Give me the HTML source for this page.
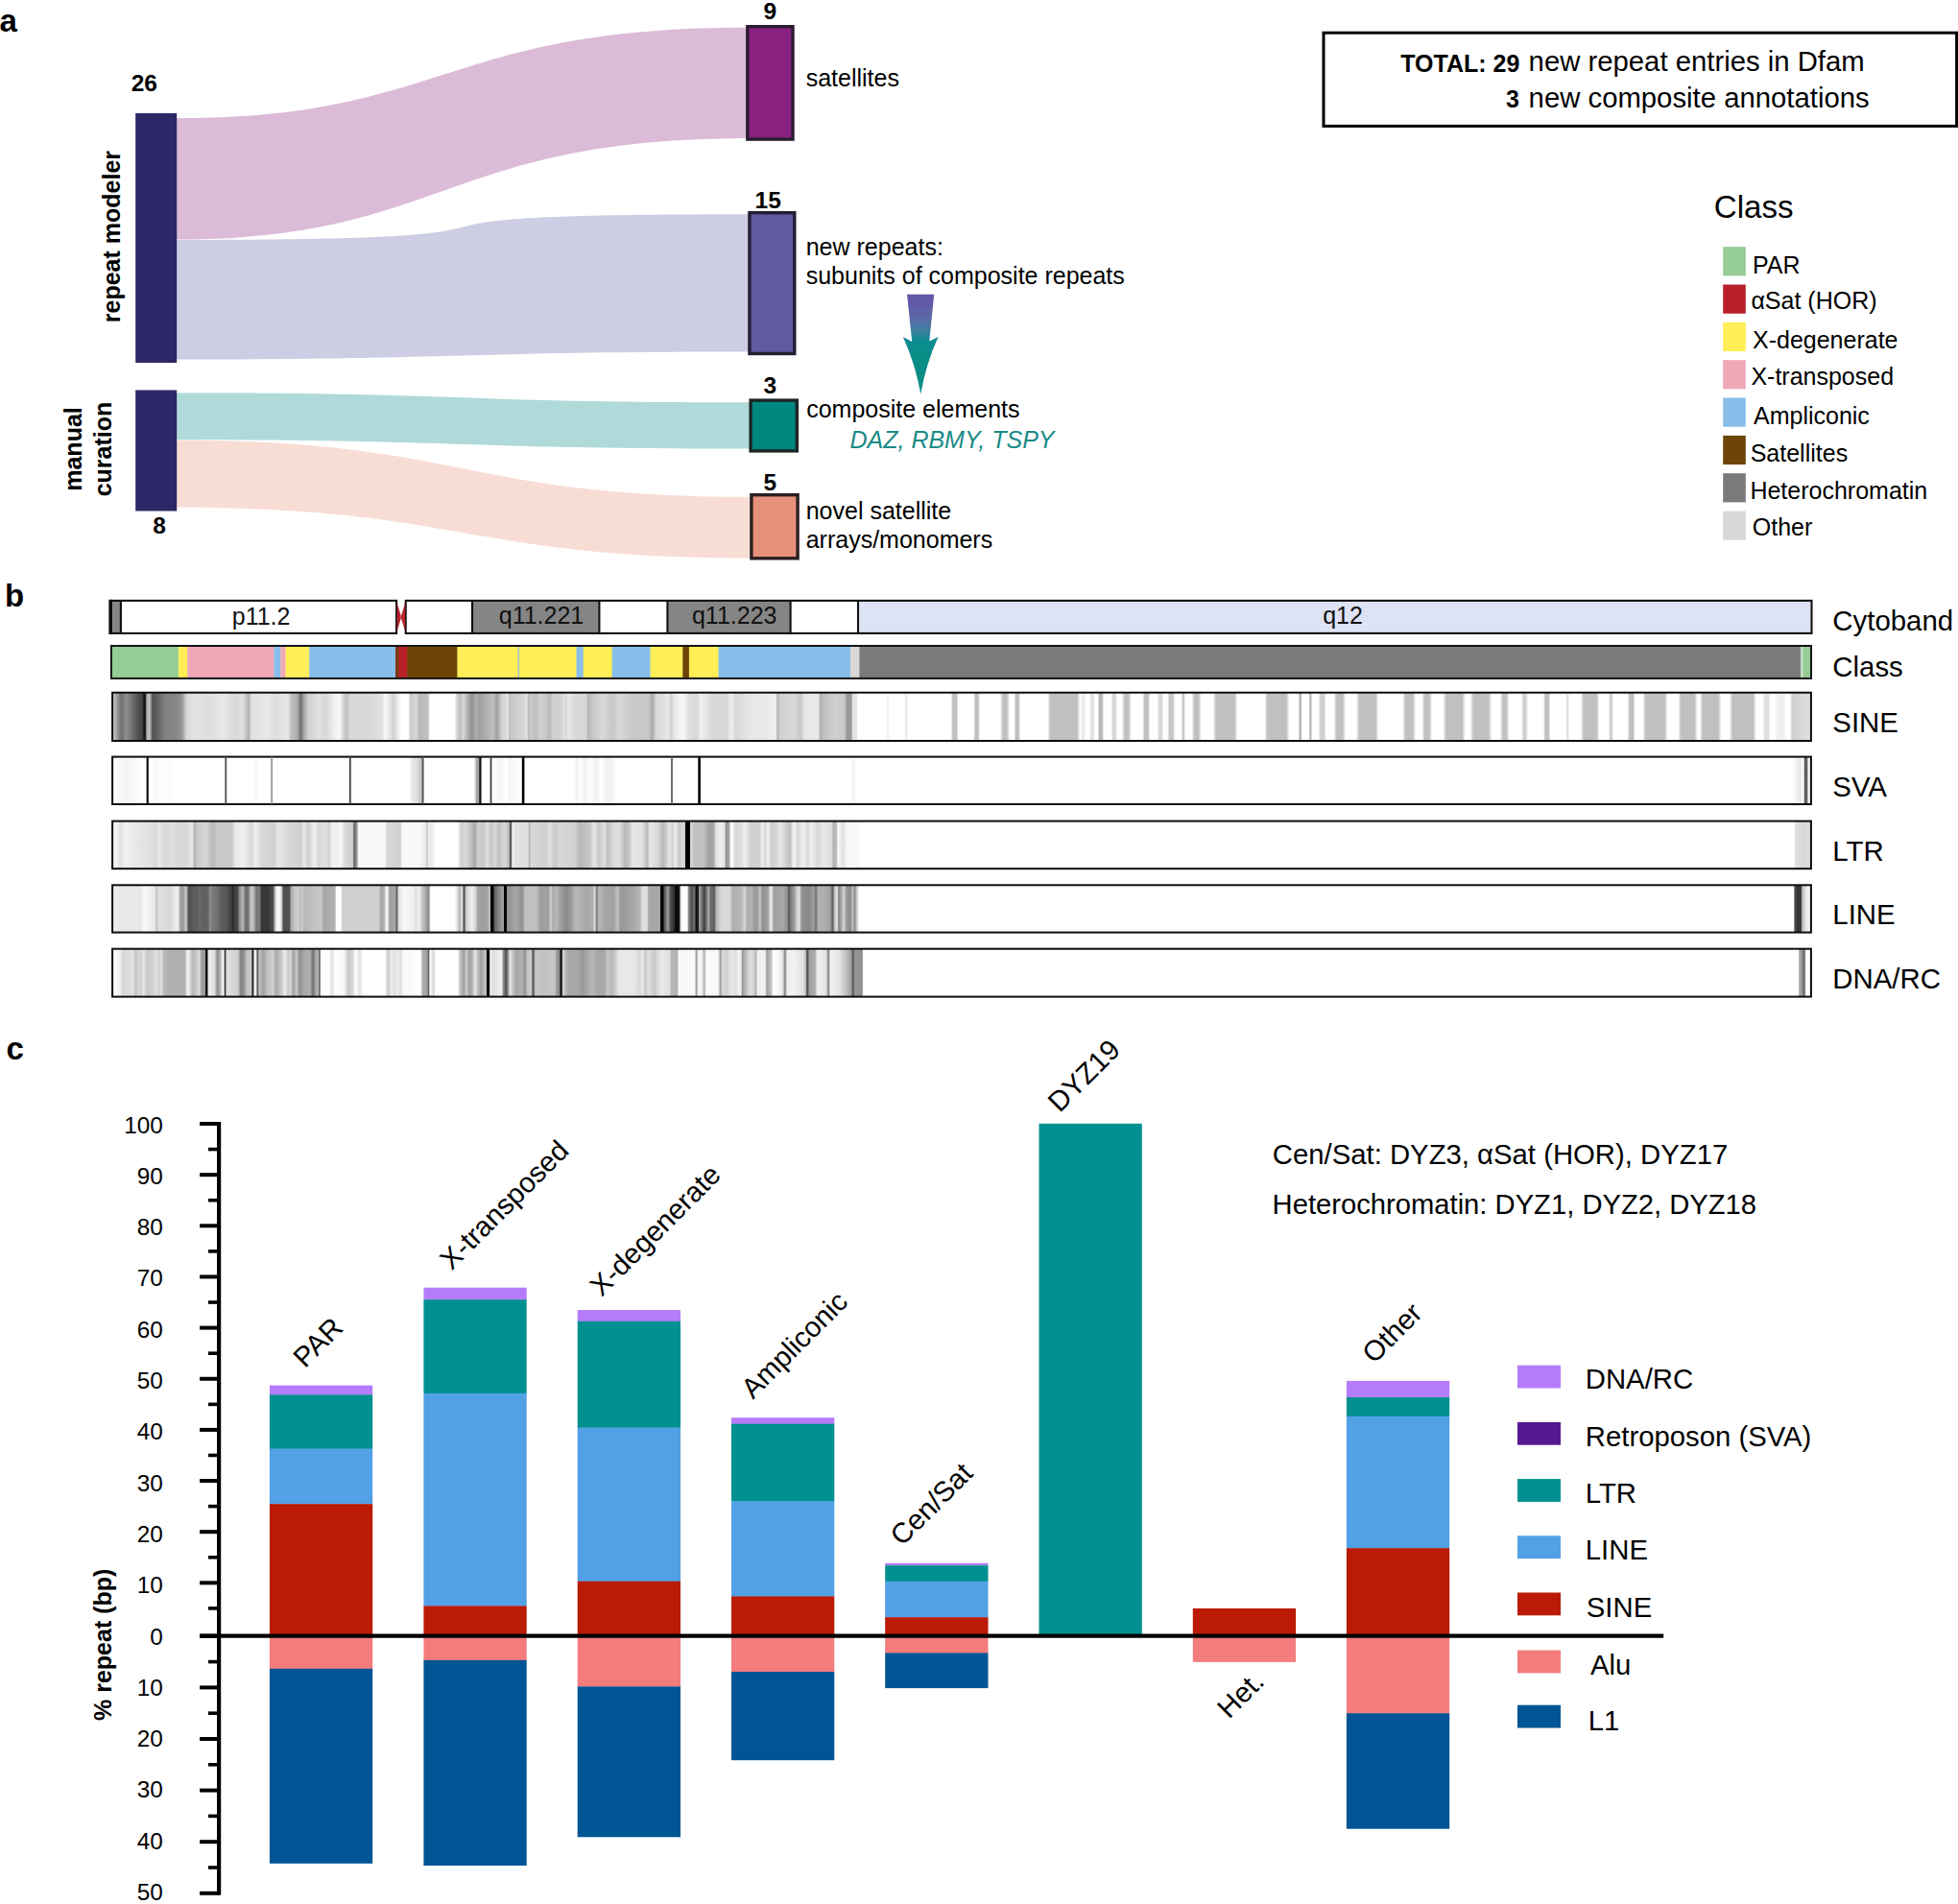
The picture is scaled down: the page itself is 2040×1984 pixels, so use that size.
<!DOCTYPE html><html><head><meta charset="utf-8"><title>Figure</title><style>html,body{margin:0;padding:0;background:#fff}svg{display:block}text{font-family:"Liberation Sans",sans-serif}</style></head><body>
<svg width="2040" height="1984" viewBox="0 0 2040 1984">
<defs>
<linearGradient id="gSINE" gradientUnits="userSpaceOnUse" x1="116.2" y1="0" x2="1887.8" y2="0"><stop offset="0.00068" stop-color="#d0d0d0"/><stop offset="0.00474" stop-color="#808080"/><stop offset="0.00604" stop-color="#707070"/><stop offset="0.00858" stop-color="#909090"/><stop offset="0.01377" stop-color="#606060"/><stop offset="0.01812" stop-color="#404040"/><stop offset="0.01908" stop-color="#181818"/><stop offset="0.01987" stop-color="#181818"/><stop offset="0.02072" stop-color="#b0b0b0"/><stop offset="0.02247" stop-color="#c0c0c0"/><stop offset="0.02416" stop-color="#505050"/><stop offset="0.02676" stop-color="#606060"/><stop offset="0.03110" stop-color="#808080"/><stop offset="0.03799" stop-color="#888888"/><stop offset="0.04149" stop-color="#989898"/><stop offset="0.04408" stop-color="#d8d8d8"/><stop offset="0.04843" stop-color="#e4e4e4"/><stop offset="0.05701" stop-color="#dcdcdc"/><stop offset="0.06570" stop-color="#e8e8e8"/><stop offset="0.07259" stop-color="#d8d8d8"/><stop offset="0.07694" stop-color="#e0e0e0"/><stop offset="0.08083" stop-color="#b0b0b0"/><stop offset="0.08213" stop-color="#e0e0e0"/><stop offset="0.09161" stop-color="#e8e8e8"/><stop offset="0.09596" stop-color="#dcdcdc"/><stop offset="0.10375" stop-color="#e8e8e8"/><stop offset="0.10544" stop-color="#c0c0c0"/><stop offset="0.10894" stop-color="#b0b0b0"/><stop offset="0.11154" stop-color="#707070"/><stop offset="0.11278" stop-color="#a0a0a0"/><stop offset="0.11583" stop-color="#d0d0d0"/><stop offset="0.12181" stop-color="#e0e0e0"/><stop offset="0.12621" stop-color="#d8d8d8"/><stop offset="0.13141" stop-color="#f0f0f0"/><stop offset="0.13400" stop-color="#f8f8f8"/><stop offset="0.13660" stop-color="#d0d0d0"/><stop offset="0.13835" stop-color="#c0c0c0"/><stop offset="0.14004" stop-color="#d8d8d8"/><stop offset="0.15218" stop-color="#d8d8d8"/><stop offset="0.15907" stop-color="#e0e0e0"/><stop offset="0.16076" stop-color="#f8f8f8"/><stop offset="0.16341" stop-color="#e8e8e8"/><stop offset="0.16584" stop-color="#d0d0d0"/><stop offset="0.16883" stop-color="#f0f0f0"/><stop offset="0.17058" stop-color="#ffffff"/><stop offset="0.17448" stop-color="#ffffff"/><stop offset="0.17577" stop-color="#c8c8c8"/><stop offset="0.17922" stop-color="#d8d8d8"/><stop offset="0.18097" stop-color="#b8b8b8"/><stop offset="0.18616" stop-color="#c0c0c0"/><stop offset="0.18718" stop-color="#ffffff"/><stop offset="0.20168" stop-color="#ffffff"/><stop offset="0.20343" stop-color="#d0d0d0"/><stop offset="0.20518" stop-color="#c0c0c0"/><stop offset="0.20688" stop-color="#d8d8d8"/><stop offset="0.20947" stop-color="#b0b0b0"/><stop offset="0.21207" stop-color="#909090"/><stop offset="0.21427" stop-color="#b0b0b0"/><stop offset="0.21641" stop-color="#a0a0a0"/><stop offset="0.22070" stop-color="#b0b0b0"/><stop offset="0.22420" stop-color="#c0c0c0"/><stop offset="0.22680" stop-color="#a0a0a0"/><stop offset="0.22940" stop-color="#d0d0d0"/><stop offset="0.23284" stop-color="#e0e0e0"/><stop offset="0.23312" stop-color="#f0f0f0"/><stop offset="0.23397" stop-color="#b8b8b8"/><stop offset="0.23487" stop-color="#c8c8c8"/><stop offset="0.24317" stop-color="#d8d8d8"/><stop offset="0.24419" stop-color="#e8e8e8"/><stop offset="0.24520" stop-color="#b8b8b8"/><stop offset="0.24594" stop-color="#c8c8c8"/><stop offset="0.25006" stop-color="#c0c0c0"/><stop offset="0.25214" stop-color="#d0d0d0"/><stop offset="0.25559" stop-color="#c8c8c8"/><stop offset="0.25802" stop-color="#b8b8b8"/><stop offset="0.25909" stop-color="#d0d0d0"/><stop offset="0.26422" stop-color="#d0d0d0"/><stop offset="0.26597" stop-color="#e0e0e0"/><stop offset="0.26772" stop-color="#d8d8d8"/><stop offset="0.26840" stop-color="#e8e8e8"/><stop offset="0.27292" stop-color="#d8d8d8"/><stop offset="0.27913" stop-color="#d8d8d8"/><stop offset="0.28014" stop-color="#b8b8b8"/><stop offset="0.28325" stop-color="#c8c8c8"/><stop offset="0.28844" stop-color="#d8d8d8"/><stop offset="0.29510" stop-color="#c8c8c8"/><stop offset="0.29854" stop-color="#d8d8d8"/><stop offset="0.30724" stop-color="#c8c8c8"/><stop offset="0.31587" stop-color="#c8c8c8"/><stop offset="0.31802" stop-color="#a8a8a8"/><stop offset="0.32016" stop-color="#d8d8d8"/><stop offset="0.32451" stop-color="#e0e0e0"/><stop offset="0.32727" stop-color="#e8e8e8"/><stop offset="0.32908" stop-color="#d0d0d0"/><stop offset="0.33083" stop-color="#e8e8e8"/><stop offset="0.33597" stop-color="#f8f8f8"/><stop offset="0.33947" stop-color="#e0e0e0"/><stop offset="0.34466" stop-color="#d8d8d8"/><stop offset="0.34635" stop-color="#f0f0f0"/><stop offset="0.35324" stop-color="#d8d8d8"/><stop offset="0.36193" stop-color="#d8d8d8"/><stop offset="0.36453" stop-color="#f0f0f0"/><stop offset="0.36713" stop-color="#d8d8d8"/><stop offset="0.37582" stop-color="#e8e8e8"/><stop offset="0.38440" stop-color="#e8e8e8"/><stop offset="0.39049" stop-color="#f0f0f0"/><stop offset="0.39179" stop-color="#b0b0b0"/><stop offset="0.39309" stop-color="#d0d0d0"/><stop offset="0.40173" stop-color="#d8d8d8"/><stop offset="0.40517" stop-color="#c8c8c8"/><stop offset="0.40777" stop-color="#e8e8e8"/><stop offset="0.41556" stop-color="#e8e8e8"/><stop offset="0.41685" stop-color="#b0b0b0"/><stop offset="0.41900" stop-color="#c0c0c0"/><stop offset="0.42594" stop-color="#d0d0d0"/><stop offset="0.43114" stop-color="#c8c8c8"/><stop offset="0.43243" stop-color="#989898"/><stop offset="0.43503" stop-color="#989898"/><stop offset="0.43588" stop-color="#e0e0e0"/><stop offset="0.43847" stop-color="#e8e8e8"/><stop offset="0.43893" stop-color="#ffffff"/><stop offset="0.45541" stop-color="#ffffff"/><stop offset="0.45665" stop-color="#f0f0f0"/><stop offset="0.45767" stop-color="#ffffff"/><stop offset="0.46613" stop-color="#ffffff"/><stop offset="0.46743" stop-color="#e8e8e8"/><stop offset="0.46867" stop-color="#ffffff"/><stop offset="0.46924" stop-color="#ffffff"/><stop offset="0.49362" stop-color="#ffffff"/><stop offset="0.49475" stop-color="#c0c0c0"/><stop offset="0.49695" stop-color="#c0c0c0"/><stop offset="0.49808" stop-color="#ffffff"/><stop offset="0.50689" stop-color="#ffffff"/><stop offset="0.50802" stop-color="#c0c0c0"/><stop offset="0.50960" stop-color="#c0c0c0"/><stop offset="0.51072" stop-color="#ffffff"/><stop offset="0.52247" stop-color="#ffffff"/><stop offset="0.52427" stop-color="#c0c0c0"/><stop offset="0.52647" stop-color="#c0c0c0"/><stop offset="0.52828" stop-color="#ffffff"/><stop offset="0.53076" stop-color="#ffffff"/><stop offset="0.53189" stop-color="#c0c0c0"/><stop offset="0.53342" stop-color="#c0c0c0"/><stop offset="0.53455" stop-color="#ffffff"/><stop offset="0.55035" stop-color="#ffffff"/><stop offset="0.55216" stop-color="#c0c0c0"/><stop offset="0.56785" stop-color="#c0c0c0"/><stop offset="0.56965" stop-color="#ffffff"/><stop offset="0.57135" stop-color="#e8e8e8"/><stop offset="0.57315" stop-color="#ffffff"/><stop offset="0.57519" stop-color="#ffffff"/><stop offset="0.57632" stop-color="#e0e0e0"/><stop offset="0.57722" stop-color="#e0e0e0"/><stop offset="0.57835" stop-color="#ffffff"/><stop offset="0.57987" stop-color="#ffffff"/><stop offset="0.58100" stop-color="#b8b8b8"/><stop offset="0.58252" stop-color="#b8b8b8"/><stop offset="0.58365" stop-color="#ffffff"/><stop offset="0.58777" stop-color="#ffffff"/><stop offset="0.58890" stop-color="#d8d8d8"/><stop offset="0.59043" stop-color="#d8d8d8"/><stop offset="0.59156" stop-color="#ffffff"/><stop offset="0.59410" stop-color="#ffffff"/><stop offset="0.59590" stop-color="#c0c0c0"/><stop offset="0.59805" stop-color="#c0c0c0"/><stop offset="0.59985" stop-color="#ffffff"/><stop offset="0.60634" stop-color="#ffffff"/><stop offset="0.60747" stop-color="#c0c0c0"/><stop offset="0.60967" stop-color="#c0c0c0"/><stop offset="0.61080" stop-color="#ffffff"/><stop offset="0.61498" stop-color="#ffffff"/><stop offset="0.61611" stop-color="#d8d8d8"/><stop offset="0.61763" stop-color="#d8d8d8"/><stop offset="0.61876" stop-color="#ffffff"/><stop offset="0.62096" stop-color="#ffffff"/><stop offset="0.62209" stop-color="#c8c8c8"/><stop offset="0.62429" stop-color="#c8c8c8"/><stop offset="0.62542" stop-color="#ffffff"/><stop offset="0.62915" stop-color="#ffffff"/><stop offset="0.62983" stop-color="#c8c8c8"/><stop offset="0.63073" stop-color="#c8c8c8"/><stop offset="0.63141" stop-color="#ffffff"/><stop offset="0.63519" stop-color="#ffffff"/><stop offset="0.63699" stop-color="#c0c0c0"/><stop offset="0.63920" stop-color="#c0c0c0"/><stop offset="0.64100" stop-color="#ffffff"/><stop offset="0.64778" stop-color="#ffffff"/><stop offset="0.64958" stop-color="#c0c0c0"/><stop offset="0.66042" stop-color="#c0c0c0"/><stop offset="0.66223" stop-color="#ffffff"/><stop offset="0.67803" stop-color="#ffffff"/><stop offset="0.67984" stop-color="#c0c0c0"/><stop offset="0.69090" stop-color="#c0c0c0"/><stop offset="0.69271" stop-color="#ffffff"/><stop offset="0.69807" stop-color="#ffffff"/><stop offset="0.69875" stop-color="#b0b0b0"/><stop offset="0.69942" stop-color="#b0b0b0"/><stop offset="0.70010" stop-color="#ffffff"/><stop offset="0.70405" stop-color="#ffffff"/><stop offset="0.70473" stop-color="#b8b8b8"/><stop offset="0.70541" stop-color="#b8b8b8"/><stop offset="0.70608" stop-color="#ffffff"/><stop offset="0.70981" stop-color="#ffffff"/><stop offset="0.71094" stop-color="#d0d0d0"/><stop offset="0.71314" stop-color="#d0d0d0"/><stop offset="0.71427" stop-color="#ffffff"/><stop offset="0.71873" stop-color="#ffffff"/><stop offset="0.72054" stop-color="#c0c0c0"/><stop offset="0.72403" stop-color="#c0c0c0"/><stop offset="0.72584" stop-color="#ffffff"/><stop offset="0.73199" stop-color="#ffffff"/><stop offset="0.73380" stop-color="#c0c0c0"/><stop offset="0.74334" stop-color="#c0c0c0"/><stop offset="0.74515" stop-color="#ffffff"/><stop offset="0.75926" stop-color="#ffffff"/><stop offset="0.76106" stop-color="#c0c0c0"/><stop offset="0.76524" stop-color="#c0c0c0"/><stop offset="0.76705" stop-color="#ffffff"/><stop offset="0.77055" stop-color="#ffffff"/><stop offset="0.77235" stop-color="#c0c0c0"/><stop offset="0.77489" stop-color="#c0c0c0"/><stop offset="0.77670" stop-color="#ffffff"/><stop offset="0.78313" stop-color="#ffffff"/><stop offset="0.78494" stop-color="#c0c0c0"/><stop offset="0.79437" stop-color="#c0c0c0"/><stop offset="0.79617" stop-color="#ffffff"/><stop offset="0.79905" stop-color="#ffffff"/><stop offset="0.80086" stop-color="#c0c0c0"/><stop offset="0.80989" stop-color="#c0c0c0"/><stop offset="0.81170" stop-color="#ffffff"/><stop offset="0.81655" stop-color="#ffffff"/><stop offset="0.81836" stop-color="#c0c0c0"/><stop offset="0.82028" stop-color="#c0c0c0"/><stop offset="0.82208" stop-color="#ffffff"/><stop offset="0.82919" stop-color="#ffffff"/><stop offset="0.83032" stop-color="#d0d0d0"/><stop offset="0.83185" stop-color="#d0d0d0"/><stop offset="0.83298" stop-color="#ffffff"/><stop offset="0.84206" stop-color="#ffffff"/><stop offset="0.84319" stop-color="#c0c0c0"/><stop offset="0.84511" stop-color="#c0c0c0"/><stop offset="0.84624" stop-color="#ffffff"/><stop offset="0.85527" stop-color="#ffffff"/><stop offset="0.85595" stop-color="#e0e0e0"/><stop offset="0.85663" stop-color="#e0e0e0"/><stop offset="0.85730" stop-color="#ffffff"/><stop offset="0.86402" stop-color="#ffffff"/><stop offset="0.86583" stop-color="#c0c0c0"/><stop offset="0.87328" stop-color="#c0c0c0"/><stop offset="0.87508" stop-color="#ffffff"/><stop offset="0.88050" stop-color="#ffffff"/><stop offset="0.88118" stop-color="#d0d0d0"/><stop offset="0.88248" stop-color="#d0d0d0"/><stop offset="0.88316" stop-color="#ffffff"/><stop offset="0.89157" stop-color="#ffffff"/><stop offset="0.89270" stop-color="#c0c0c0"/><stop offset="0.89484" stop-color="#c0c0c0"/><stop offset="0.89597" stop-color="#ffffff"/><stop offset="0.90049" stop-color="#ffffff"/><stop offset="0.90229" stop-color="#c0c0c0"/><stop offset="0.91336" stop-color="#c0c0c0"/><stop offset="0.91516" stop-color="#ffffff"/><stop offset="0.92131" stop-color="#ffffff"/><stop offset="0.92312" stop-color="#c0c0c0"/><stop offset="0.93097" stop-color="#c0c0c0"/><stop offset="0.93277" stop-color="#ffffff"/><stop offset="0.93401" stop-color="#ffffff"/><stop offset="0.93582" stop-color="#c0c0c0"/><stop offset="0.94491" stop-color="#c0c0c0"/><stop offset="0.94671" stop-color="#ffffff"/><stop offset="0.95151" stop-color="#ffffff"/><stop offset="0.95332" stop-color="#c0c0c0"/><stop offset="0.96545" stop-color="#c0c0c0"/><stop offset="0.96726" stop-color="#ffffff"/><stop offset="0.97110" stop-color="#ffffff"/><stop offset="0.97223" stop-color="#e0e0e0"/><stop offset="0.97443" stop-color="#e0e0e0"/><stop offset="0.97556" stop-color="#ffffff"/><stop offset="0.97804" stop-color="#ffffff"/><stop offset="0.97985" stop-color="#f0f0f0"/><stop offset="0.98335" stop-color="#f0f0f0"/><stop offset="0.98515" stop-color="#ffffff"/><stop offset="0.98713" stop-color="#ffffff"/><stop offset="0.98826" stop-color="#d0d0d0"/><stop offset="0.99955" stop-color="#e0e0e0"/></linearGradient>
<linearGradient id="gSVA" gradientUnits="userSpaceOnUse" x1="116.2" y1="0" x2="1887.8" y2="0"><stop offset="0.00045" stop-color="#ffffff"/><stop offset="0.00440" stop-color="#f8f8f8"/><stop offset="0.00892" stop-color="#f4f4f4"/><stop offset="0.01343" stop-color="#f8f8f8"/><stop offset="0.01908" stop-color="#ffffff"/><stop offset="0.02359" stop-color="#ffffff"/><stop offset="0.02585" stop-color="#f8f8f8"/><stop offset="0.03037" stop-color="#ffffff"/><stop offset="0.03488" stop-color="#fafafa"/><stop offset="0.03827" stop-color="#ffffff"/><stop offset="0.08230" stop-color="#ffffff"/><stop offset="0.08456" stop-color="#f8f8f8"/><stop offset="0.08681" stop-color="#ffffff"/><stop offset="0.17543" stop-color="#ffffff"/><stop offset="0.17656" stop-color="#e8e8e8"/><stop offset="0.17939" stop-color="#e0e0e0"/><stop offset="0.18249" stop-color="#c0c0c0"/><stop offset="0.18368" stop-color="#ffffff"/><stop offset="0.21325" stop-color="#ffffff"/><stop offset="0.21466" stop-color="#a8a8a8"/><stop offset="0.21625" stop-color="#a0a0a0"/><stop offset="0.21754" stop-color="#ffffff"/><stop offset="0.22454" stop-color="#ffffff"/><stop offset="0.22793" stop-color="#f6f6f6"/><stop offset="0.23245" stop-color="#ffffff"/><stop offset="0.23357" stop-color="#f4f4f4"/><stop offset="0.23696" stop-color="#fafafa"/><stop offset="0.24035" stop-color="#ffffff"/><stop offset="0.27196" stop-color="#ffffff"/><stop offset="0.27365" stop-color="#f0f0f0"/><stop offset="0.27534" stop-color="#ffffff"/><stop offset="0.27873" stop-color="#f2f2f2"/><stop offset="0.28099" stop-color="#ffffff"/><stop offset="0.28550" stop-color="#f0f0f0"/><stop offset="0.28776" stop-color="#ffffff"/><stop offset="0.29115" stop-color="#f2f2f2"/><stop offset="0.29454" stop-color="#f4f4f4"/><stop offset="0.29623" stop-color="#ffffff"/><stop offset="0.43509" stop-color="#ffffff"/><stop offset="0.43622" stop-color="#f2f2f2"/><stop offset="0.43791" stop-color="#ffffff"/><stop offset="0.98882" stop-color="#ffffff"/><stop offset="0.99108" stop-color="#f0f0f0"/><stop offset="0.99334" stop-color="#e8e8e8"/><stop offset="0.99503" stop-color="#ffffff"/><stop offset="0.99588" stop-color="#606060"/><stop offset="0.99701" stop-color="#606060"/><stop offset="0.99786" stop-color="#f0f0f0"/><stop offset="0.99955" stop-color="#ffffff"/></linearGradient>
<linearGradient id="gLTR" gradientUnits="userSpaceOnUse" x1="116.2" y1="0" x2="1887.8" y2="0"><stop offset="0.00085" stop-color="#f8f8f8"/><stop offset="0.00344" stop-color="#f0f0f0"/><stop offset="0.00514" stop-color="#e0e0e0"/><stop offset="0.00779" stop-color="#f0f0f0"/><stop offset="0.01377" stop-color="#e8e8e8"/><stop offset="0.02247" stop-color="#e0e0e0"/><stop offset="0.02676" stop-color="#d8d8d8"/><stop offset="0.02766" stop-color="#e8e8e8"/><stop offset="0.03110" stop-color="#d8d8d8"/><stop offset="0.03629" stop-color="#e0e0e0"/><stop offset="0.03799" stop-color="#d8d8d8"/><stop offset="0.04408" stop-color="#d8d8d8"/><stop offset="0.04753" stop-color="#e8e8e8"/><stop offset="0.04883" stop-color="#b0b0b0"/><stop offset="0.05012" stop-color="#c8c8c8"/><stop offset="0.05532" stop-color="#d8d8d8"/><stop offset="0.05961" stop-color="#b8b8b8"/><stop offset="0.06220" stop-color="#c8c8c8"/><stop offset="0.07090" stop-color="#c8c8c8"/><stop offset="0.07259" stop-color="#e8e8e8"/><stop offset="0.07778" stop-color="#f0f0f0"/><stop offset="0.08213" stop-color="#d8d8d8"/><stop offset="0.08473" stop-color="#f0f0f0"/><stop offset="0.08817" stop-color="#d8d8d8"/><stop offset="0.09596" stop-color="#d0d0d0"/><stop offset="0.09771" stop-color="#e8e8e8"/><stop offset="0.10375" stop-color="#d8d8d8"/><stop offset="0.11154" stop-color="#d0d0d0"/><stop offset="0.11323" stop-color="#e8e8e8"/><stop offset="0.11583" stop-color="#d0d0d0"/><stop offset="0.11933" stop-color="#f0f0f0"/><stop offset="0.12192" stop-color="#d8d8d8"/><stop offset="0.12621" stop-color="#e0e0e0"/><stop offset="0.12796" stop-color="#d0d0d0"/><stop offset="0.12971" stop-color="#f0f0f0"/><stop offset="0.13310" stop-color="#f0f0f0"/><stop offset="0.13485" stop-color="#f8f8f8"/><stop offset="0.13745" stop-color="#d8d8d8"/><stop offset="0.14179" stop-color="#d0d0d0"/><stop offset="0.14264" stop-color="#606060"/><stop offset="0.14439" stop-color="#a0a0a0"/><stop offset="0.14524" stop-color="#f8f8f8"/><stop offset="0.16076" stop-color="#f8f8f8"/><stop offset="0.16189" stop-color="#d8d8d8"/><stop offset="0.16973" stop-color="#d0d0d0"/><stop offset="0.17103" stop-color="#f8f8f8"/><stop offset="0.18097" stop-color="#f8f8f8"/><stop offset="0.18486" stop-color="#e8e8e8"/><stop offset="0.18543" stop-color="#c0c0c0"/><stop offset="0.18616" stop-color="#e8e8e8"/><stop offset="0.18955" stop-color="#f0f0f0"/><stop offset="0.19045" stop-color="#ffffff"/><stop offset="0.20343" stop-color="#ffffff"/><stop offset="0.20558" stop-color="#d0d0d0"/><stop offset="0.20862" stop-color="#d8d8d8"/><stop offset="0.21122" stop-color="#c0c0c0"/><stop offset="0.21382" stop-color="#a8a8a8"/><stop offset="0.21551" stop-color="#d0d0d0"/><stop offset="0.21901" stop-color="#c8c8c8"/><stop offset="0.22070" stop-color="#e0e0e0"/><stop offset="0.22330" stop-color="#c8c8c8"/><stop offset="0.22590" stop-color="#d8d8d8"/><stop offset="0.22765" stop-color="#c0c0c0"/><stop offset="0.23109" stop-color="#d8d8d8"/><stop offset="0.23369" stop-color="#c0c0c0"/><stop offset="0.23442" stop-color="#606060"/><stop offset="0.23515" stop-color="#606060"/><stop offset="0.23572" stop-color="#f8f8f8"/><stop offset="0.23719" stop-color="#e0e0e0"/><stop offset="0.24486" stop-color="#e0e0e0"/><stop offset="0.24582" stop-color="#b0b0b0"/><stop offset="0.24667" stop-color="#d8d8d8"/><stop offset="0.25531" stop-color="#d0d0d0"/><stop offset="0.25785" stop-color="#e0e0e0"/><stop offset="0.26050" stop-color="#c8c8c8"/><stop offset="0.26394" stop-color="#d8d8d8"/><stop offset="0.27263" stop-color="#d0d0d0"/><stop offset="0.27523" stop-color="#b8b8b8"/><stop offset="0.28127" stop-color="#c8c8c8"/><stop offset="0.28381" stop-color="#e8e8e8"/><stop offset="0.28646" stop-color="#c8c8c8"/><stop offset="0.28991" stop-color="#e0e0e0"/><stop offset="0.29166" stop-color="#c0c0c0"/><stop offset="0.29510" stop-color="#d8d8d8"/><stop offset="0.29849" stop-color="#e0e0e0"/><stop offset="0.30204" stop-color="#b8b8b8"/><stop offset="0.30464" stop-color="#c8c8c8"/><stop offset="0.30633" stop-color="#e8e8e8"/><stop offset="0.31237" stop-color="#e0e0e0"/><stop offset="0.31497" stop-color="#b8b8b8"/><stop offset="0.31672" stop-color="#e8e8e8"/><stop offset="0.32107" stop-color="#d8d8d8"/><stop offset="0.32445" stop-color="#b8b8b8"/><stop offset="0.32648" stop-color="#d0d0d0"/><stop offset="0.32823" stop-color="#e8e8e8"/><stop offset="0.32993" stop-color="#d0d0d0"/><stop offset="0.33168" stop-color="#f0f0f0"/><stop offset="0.33343" stop-color="#c8c8c8"/><stop offset="0.33597" stop-color="#d8d8d8"/><stop offset="0.33715" stop-color="#d0d0d0"/><stop offset="0.33727" stop-color="#000000"/><stop offset="0.34009" stop-color="#000000"/><stop offset="0.34026" stop-color="#d8d8d8"/><stop offset="0.34291" stop-color="#c0c0c0"/><stop offset="0.34810" stop-color="#c0c0c0"/><stop offset="0.35155" stop-color="#a0a0a0"/><stop offset="0.35414" stop-color="#a8a8a8"/><stop offset="0.35544" stop-color="#e0e0e0"/><stop offset="0.35849" stop-color="#f0f0f0"/><stop offset="0.36058" stop-color="#e0e0e0"/><stop offset="0.36148" stop-color="#909090"/><stop offset="0.36323" stop-color="#a8a8a8"/><stop offset="0.36408" stop-color="#f8f8f8"/><stop offset="0.36538" stop-color="#f8f8f8"/><stop offset="0.36667" stop-color="#d8d8d8"/><stop offset="0.37057" stop-color="#e0e0e0"/><stop offset="0.37232" stop-color="#f0f0f0"/><stop offset="0.37576" stop-color="#d0d0d0"/><stop offset="0.38090" stop-color="#d0d0d0"/><stop offset="0.38270" stop-color="#f0f0f0"/><stop offset="0.38440" stop-color="#d8d8d8"/><stop offset="0.38615" stop-color="#f0f0f0"/><stop offset="0.38790" stop-color="#d0d0d0"/><stop offset="0.39134" stop-color="#d8d8d8"/><stop offset="0.39309" stop-color="#e8e8e8"/><stop offset="0.39653" stop-color="#d0d0d0"/><stop offset="0.39913" stop-color="#c0c0c0"/><stop offset="0.40122" stop-color="#f8f8f8"/><stop offset="0.40348" stop-color="#d8d8d8"/><stop offset="0.40686" stop-color="#f0f0f0"/><stop offset="0.40952" stop-color="#d8d8d8"/><stop offset="0.41121" stop-color="#f0f0f0"/><stop offset="0.41556" stop-color="#d8d8d8"/><stop offset="0.41815" stop-color="#e8e8e8"/><stop offset="0.42335" stop-color="#e0e0e0"/><stop offset="0.42464" stop-color="#b0b0b0"/><stop offset="0.42639" stop-color="#c0c0c0"/><stop offset="0.42718" stop-color="#f8f8f8"/><stop offset="0.43023" stop-color="#e0e0e0"/><stop offset="0.43283" stop-color="#f8f8f8"/><stop offset="0.43977" stop-color="#f8f8f8"/><stop offset="0.44017" stop-color="#ffffff"/><stop offset="0.98939" stop-color="#ffffff"/><stop offset="0.99052" stop-color="#e0e0e0"/><stop offset="0.99560" stop-color="#d8d8d8"/><stop offset="0.99955" stop-color="#e0e0e0"/></linearGradient>
<linearGradient id="gLINE" gradientUnits="userSpaceOnUse" x1="116.2" y1="0" x2="1887.8" y2="0"><stop offset="0.00085" stop-color="#f0f0f0"/><stop offset="0.00514" stop-color="#e8e8e8"/><stop offset="0.01727" stop-color="#e8e8e8"/><stop offset="0.01897" stop-color="#f8f8f8"/><stop offset="0.02247" stop-color="#f0f0f0"/><stop offset="0.02546" stop-color="#e8e8e8"/><stop offset="0.02636" stop-color="#c0c0c0"/><stop offset="0.02766" stop-color="#e0e0e0"/><stop offset="0.03455" stop-color="#d8d8d8"/><stop offset="0.03844" stop-color="#f0f0f0"/><stop offset="0.03985" stop-color="#d8d8d8"/><stop offset="0.04025" stop-color="#a8a8a8"/><stop offset="0.04205" stop-color="#989898"/><stop offset="0.04329" stop-color="#c0c0c0"/><stop offset="0.04448" stop-color="#b0b0b0"/><stop offset="0.04510" stop-color="#505050"/><stop offset="0.04933" stop-color="#606060"/><stop offset="0.05012" stop-color="#585858"/><stop offset="0.05097" stop-color="#686868"/><stop offset="0.05537" stop-color="#606060"/><stop offset="0.05701" stop-color="#686868"/><stop offset="0.05803" stop-color="#989898"/><stop offset="0.05859" stop-color="#808080"/><stop offset="0.06226" stop-color="#707070"/><stop offset="0.06424" stop-color="#606060"/><stop offset="0.06751" stop-color="#585858"/><stop offset="0.07033" stop-color="#404040"/><stop offset="0.07152" stop-color="#282828"/><stop offset="0.07236" stop-color="#404040"/><stop offset="0.07434" stop-color="#484848"/><stop offset="0.07496" stop-color="#888888"/><stop offset="0.07637" stop-color="#a0a0a0"/><stop offset="0.07716" stop-color="#c0c0c0"/><stop offset="0.07801" stop-color="#909090"/><stop offset="0.07880" stop-color="#707070"/><stop offset="0.08061" stop-color="#707070"/><stop offset="0.08123" stop-color="#b0b0b0"/><stop offset="0.08281" stop-color="#c8c8c8"/><stop offset="0.08444" stop-color="#989898"/><stop offset="0.08506" stop-color="#787878"/><stop offset="0.08727" stop-color="#787878"/><stop offset="0.08806" stop-color="#383838"/><stop offset="0.09252" stop-color="#383838"/><stop offset="0.09331" stop-color="#484848"/><stop offset="0.09494" stop-color="#484848"/><stop offset="0.09573" stop-color="#a0a0a0"/><stop offset="0.09697" stop-color="#f0f0f0"/><stop offset="0.09839" stop-color="#ffffff"/><stop offset="0.09957" stop-color="#e0e0e0"/><stop offset="0.10036" stop-color="#c0c0c0"/><stop offset="0.10081" stop-color="#505050"/><stop offset="0.10459" stop-color="#505050"/><stop offset="0.10544" stop-color="#a0a0a0"/><stop offset="0.10702" stop-color="#c0c0c0"/><stop offset="0.10984" stop-color="#d0d0d0"/><stop offset="0.11109" stop-color="#b8b8b8"/><stop offset="0.11188" stop-color="#d0d0d0"/><stop offset="0.11334" stop-color="#b8b8b8"/><stop offset="0.11758" stop-color="#c0c0c0"/><stop offset="0.12362" stop-color="#c8c8c8"/><stop offset="0.12446" stop-color="#a8a8a8"/><stop offset="0.13141" stop-color="#b0b0b0"/><stop offset="0.13225" stop-color="#ffffff"/><stop offset="0.13485" stop-color="#ffffff"/><stop offset="0.13575" stop-color="#d0d0d0"/><stop offset="0.15737" stop-color="#d0d0d0"/><stop offset="0.15822" stop-color="#a8a8a8"/><stop offset="0.16036" stop-color="#b0b0b0"/><stop offset="0.16127" stop-color="#f0f0f0"/><stop offset="0.16256" stop-color="#f0f0f0"/><stop offset="0.16341" stop-color="#a0a0a0"/><stop offset="0.16358" stop-color="#a0a0a0"/><stop offset="0.16669" stop-color="#a8a8a8"/><stop offset="0.16781" stop-color="#606060"/><stop offset="0.16883" stop-color="#e0e0e0"/><stop offset="0.17148" stop-color="#f8f8f8"/><stop offset="0.17747" stop-color="#f0f0f0"/><stop offset="0.17882" stop-color="#e0e0e0"/><stop offset="0.18097" stop-color="#f0f0f0"/><stop offset="0.18266" stop-color="#c8c8c8"/><stop offset="0.18526" stop-color="#a0a0a0"/><stop offset="0.18655" stop-color="#888888"/><stop offset="0.18768" stop-color="#ffffff"/><stop offset="0.20168" stop-color="#ffffff"/><stop offset="0.20343" stop-color="#e0e0e0"/><stop offset="0.20473" stop-color="#b0b0b0"/><stop offset="0.20603" stop-color="#e8e8e8"/><stop offset="0.20733" stop-color="#505050"/><stop offset="0.20862" stop-color="#d0d0d0"/><stop offset="0.21207" stop-color="#f0f0f0"/><stop offset="0.21427" stop-color="#d0d0d0"/><stop offset="0.21551" stop-color="#a0a0a0"/><stop offset="0.22070" stop-color="#a0a0a0"/><stop offset="0.22245" stop-color="#c0c0c0"/><stop offset="0.22296" stop-color="#c0c0c0"/><stop offset="0.22308" stop-color="#000000"/><stop offset="0.22460" stop-color="#000000"/><stop offset="0.22505" stop-color="#606060"/><stop offset="0.22849" stop-color="#909090"/><stop offset="0.23019" stop-color="#a0a0a0"/><stop offset="0.23081" stop-color="#a0a0a0"/><stop offset="0.23092" stop-color="#000000"/><stop offset="0.23216" stop-color="#000000"/><stop offset="0.23267" stop-color="#909090"/><stop offset="0.23803" stop-color="#a8a8a8"/><stop offset="0.24148" stop-color="#909090"/><stop offset="0.24317" stop-color="#c0c0c0"/><stop offset="0.25011" stop-color="#c0c0c0"/><stop offset="0.25186" stop-color="#a0a0a0"/><stop offset="0.25706" stop-color="#a0a0a0"/><stop offset="0.25835" stop-color="#d0d0d0"/><stop offset="0.25965" stop-color="#a8a8a8"/><stop offset="0.26140" stop-color="#b8b8b8"/><stop offset="0.26394" stop-color="#a0a0a0"/><stop offset="0.26744" stop-color="#888888"/><stop offset="0.27083" stop-color="#a0a0a0"/><stop offset="0.27263" stop-color="#b8b8b8"/><stop offset="0.27952" stop-color="#a8a8a8"/><stop offset="0.28302" stop-color="#b0b0b0"/><stop offset="0.28432" stop-color="#e0e0e0"/><stop offset="0.28539" stop-color="#707070"/><stop offset="0.28646" stop-color="#b8b8b8"/><stop offset="0.28991" stop-color="#a8a8a8"/><stop offset="0.29510" stop-color="#a0a0a0"/><stop offset="0.29770" stop-color="#c0c0c0"/><stop offset="0.29945" stop-color="#989898"/><stop offset="0.30724" stop-color="#a8a8a8"/><stop offset="0.31068" stop-color="#b8b8b8"/><stop offset="0.31237" stop-color="#e0e0e0"/><stop offset="0.31497" stop-color="#e0e0e0"/><stop offset="0.31587" stop-color="#a8a8a8"/><stop offset="0.32191" stop-color="#a8a8a8"/><stop offset="0.32293" stop-color="#a8a8a8"/><stop offset="0.32304" stop-color="#000000"/><stop offset="0.32445" stop-color="#000000"/><stop offset="0.32496" stop-color="#505050"/><stop offset="0.32558" stop-color="#606060"/><stop offset="0.32727" stop-color="#a0a0a0"/><stop offset="0.32863" stop-color="#505050"/><stop offset="0.33083" stop-color="#303030"/><stop offset="0.33168" stop-color="#080808"/><stop offset="0.33382" stop-color="#101010"/><stop offset="0.33461" stop-color="#d0d0d0"/><stop offset="0.33557" stop-color="#ffffff"/><stop offset="0.33856" stop-color="#ffffff"/><stop offset="0.33947" stop-color="#808080"/><stop offset="0.34116" stop-color="#505050"/><stop offset="0.34291" stop-color="#707070"/><stop offset="0.34376" stop-color="#101010"/><stop offset="0.34506" stop-color="#202020"/><stop offset="0.34568" stop-color="#a0a0a0"/><stop offset="0.34681" stop-color="#808080"/><stop offset="0.34855" stop-color="#404040"/><stop offset="0.34985" stop-color="#707070"/><stop offset="0.35115" stop-color="#b0b0b0"/><stop offset="0.35200" stop-color="#707070"/><stop offset="0.35459" stop-color="#606060"/><stop offset="0.35544" stop-color="#b0b0b0"/><stop offset="0.35849" stop-color="#d8d8d8"/><stop offset="0.36368" stop-color="#d8d8d8"/><stop offset="0.36538" stop-color="#b0b0b0"/><stop offset="0.37057" stop-color="#b8b8b8"/><stop offset="0.37232" stop-color="#d8d8d8"/><stop offset="0.37356" stop-color="#b0b0b0"/><stop offset="0.37667" stop-color="#b0b0b0"/><stop offset="0.37796" stop-color="#989898"/><stop offset="0.38011" stop-color="#a0a0a0"/><stop offset="0.38141" stop-color="#c8c8c8"/><stop offset="0.38270" stop-color="#909090"/><stop offset="0.38615" stop-color="#a0a0a0"/><stop offset="0.38745" stop-color="#e8e8e8"/><stop offset="0.38824" stop-color="#e0e0e0"/><stop offset="0.38959" stop-color="#a0a0a0"/><stop offset="0.39478" stop-color="#a8a8a8"/><stop offset="0.39738" stop-color="#909090"/><stop offset="0.39840" stop-color="#505050"/><stop offset="0.39953" stop-color="#808080"/><stop offset="0.40173" stop-color="#a0a0a0"/><stop offset="0.40303" stop-color="#d0d0d0"/><stop offset="0.40432" stop-color="#e0e0e0"/><stop offset="0.40602" stop-color="#909090"/><stop offset="0.41036" stop-color="#888888"/><stop offset="0.41296" stop-color="#a0a0a0"/><stop offset="0.41420" stop-color="#707070"/><stop offset="0.41556" stop-color="#b0b0b0"/><stop offset="0.41900" stop-color="#b0b0b0"/><stop offset="0.42250" stop-color="#a0a0a0"/><stop offset="0.42419" stop-color="#606060"/><stop offset="0.42549" stop-color="#d0d0d0"/><stop offset="0.42679" stop-color="#e0e0e0"/><stop offset="0.42764" stop-color="#808080"/><stop offset="0.42939" stop-color="#b0b0b0"/><stop offset="0.43068" stop-color="#d8d8d8"/><stop offset="0.43198" stop-color="#a0a0a0"/><stop offset="0.43452" stop-color="#888888"/><stop offset="0.43588" stop-color="#c0c0c0"/><stop offset="0.43718" stop-color="#888888"/><stop offset="0.43802" stop-color="#c0c0c0"/><stop offset="0.43977" stop-color="#ffffff"/><stop offset="0.98911" stop-color="#ffffff"/><stop offset="0.98995" stop-color="#505050"/><stop offset="0.99165" stop-color="#303030"/><stop offset="0.99362" stop-color="#404040"/><stop offset="0.99419" stop-color="#b0b0b0"/><stop offset="0.99560" stop-color="#d8d8d8"/><stop offset="0.99729" stop-color="#f0f0f0"/><stop offset="0.99955" stop-color="#f8f8f8"/></linearGradient>
<linearGradient id="gDNA" gradientUnits="userSpaceOnUse" x1="116.2" y1="0" x2="1887.8" y2="0"><stop offset="0.00085" stop-color="#ffffff"/><stop offset="0.00514" stop-color="#f0f0f0"/><stop offset="0.00643" stop-color="#d8d8d8"/><stop offset="0.01293" stop-color="#e0e0e0"/><stop offset="0.01422" stop-color="#c0c0c0"/><stop offset="0.01552" stop-color="#d8d8d8"/><stop offset="0.01727" stop-color="#d0d0d0"/><stop offset="0.01897" stop-color="#e8e8e8"/><stop offset="0.02072" stop-color="#c8c8c8"/><stop offset="0.02416" stop-color="#d0d0d0"/><stop offset="0.02591" stop-color="#e0e0e0"/><stop offset="0.02851" stop-color="#d0d0d0"/><stop offset="0.02935" stop-color="#e8e8e8"/><stop offset="0.03026" stop-color="#c0c0c0"/><stop offset="0.03370" stop-color="#b0b0b0"/><stop offset="0.04318" stop-color="#b0b0b0"/><stop offset="0.04448" stop-color="#f0f0f0"/><stop offset="0.04578" stop-color="#e8e8e8"/><stop offset="0.04753" stop-color="#b8b8b8"/><stop offset="0.05012" stop-color="#c8c8c8"/><stop offset="0.05182" stop-color="#e0e0e0"/><stop offset="0.05272" stop-color="#a0a0a0"/><stop offset="0.05520" stop-color="#989898"/><stop offset="0.05543" stop-color="#101010"/><stop offset="0.05645" stop-color="#101010"/><stop offset="0.05678" stop-color="#f0f0f0"/><stop offset="0.06051" stop-color="#e0e0e0"/><stop offset="0.06220" stop-color="#909090"/><stop offset="0.06395" stop-color="#b0b0b0"/><stop offset="0.06525" stop-color="#f0f0f0"/><stop offset="0.06610" stop-color="#f0f0f0"/><stop offset="0.06649" stop-color="#303030"/><stop offset="0.06706" stop-color="#303030"/><stop offset="0.06751" stop-color="#e0e0e0"/><stop offset="0.07434" stop-color="#d0d0d0"/><stop offset="0.07609" stop-color="#808080"/><stop offset="0.07778" stop-color="#909090"/><stop offset="0.07948" stop-color="#c0c0c0"/><stop offset="0.08213" stop-color="#d0d0d0"/><stop offset="0.08275" stop-color="#303030"/><stop offset="0.08331" stop-color="#303030"/><stop offset="0.08399" stop-color="#f0f0f0"/><stop offset="0.08512" stop-color="#f0f0f0"/><stop offset="0.08557" stop-color="#606060"/><stop offset="0.08614" stop-color="#606060"/><stop offset="0.08681" stop-color="#c8c8c8"/><stop offset="0.08907" stop-color="#a0a0a0"/><stop offset="0.09161" stop-color="#c0c0c0"/><stop offset="0.09511" stop-color="#d0d0d0"/><stop offset="0.09681" stop-color="#a8a8a8"/><stop offset="0.10030" stop-color="#d0d0d0"/><stop offset="0.10200" stop-color="#f0f0f0"/><stop offset="0.10375" stop-color="#c8c8c8"/><stop offset="0.10544" stop-color="#d8d8d8"/><stop offset="0.10674" stop-color="#a0a0a0"/><stop offset="0.10894" stop-color="#c8c8c8"/><stop offset="0.11063" stop-color="#909090"/><stop offset="0.11323" stop-color="#a8a8a8"/><stop offset="0.11673" stop-color="#b0b0b0"/><stop offset="0.11842" stop-color="#707070"/><stop offset="0.12012" stop-color="#a8a8a8"/><stop offset="0.12147" stop-color="#b8b8b8"/><stop offset="0.12238" stop-color="#505050"/><stop offset="0.12322" stop-color="#ffffff"/><stop offset="0.12796" stop-color="#ffffff"/><stop offset="0.12971" stop-color="#e0e0e0"/><stop offset="0.13141" stop-color="#ffffff"/><stop offset="0.13660" stop-color="#f8f8f8"/><stop offset="0.13920" stop-color="#c8c8c8"/><stop offset="0.14179" stop-color="#d8d8d8"/><stop offset="0.14354" stop-color="#ffffff"/><stop offset="0.14608" stop-color="#e0e0e0"/><stop offset="0.14778" stop-color="#ffffff"/><stop offset="0.16076" stop-color="#ffffff"/><stop offset="0.16189" stop-color="#e0e0e0"/><stop offset="0.16279" stop-color="#c8c8c8"/><stop offset="0.16454" stop-color="#f0f0f0"/><stop offset="0.16623" stop-color="#e0e0e0"/><stop offset="0.16883" stop-color="#f0f0f0"/><stop offset="0.16973" stop-color="#d8d8d8"/><stop offset="0.17148" stop-color="#f8f8f8"/><stop offset="0.18181" stop-color="#ffffff"/><stop offset="0.18277" stop-color="#b0b0b0"/><stop offset="0.18571" stop-color="#a0a0a0"/><stop offset="0.18655" stop-color="#505050"/><stop offset="0.18718" stop-color="#ffffff"/><stop offset="0.18830" stop-color="#f0f0f0"/><stop offset="0.18955" stop-color="#d0d0d0"/><stop offset="0.19045" stop-color="#ffffff"/><stop offset="0.20343" stop-color="#ffffff"/><stop offset="0.20518" stop-color="#c0c0c0"/><stop offset="0.20733" stop-color="#a0a0a0"/><stop offset="0.20862" stop-color="#d0d0d0"/><stop offset="0.21037" stop-color="#a0a0a0"/><stop offset="0.21207" stop-color="#b0b0b0"/><stop offset="0.21382" stop-color="#e8e8e8"/><stop offset="0.21551" stop-color="#c0c0c0"/><stop offset="0.21720" stop-color="#a0a0a0"/><stop offset="0.21986" stop-color="#c0c0c0"/><stop offset="0.22059" stop-color="#c0c0c0"/><stop offset="0.22070" stop-color="#000000"/><stop offset="0.22228" stop-color="#000000"/><stop offset="0.22262" stop-color="#f0f0f0"/><stop offset="0.22420" stop-color="#e0e0e0"/><stop offset="0.22940" stop-color="#f0f0f0"/><stop offset="0.23041" stop-color="#909090"/><stop offset="0.23199" stop-color="#505050"/><stop offset="0.23329" stop-color="#909090"/><stop offset="0.23414" stop-color="#e8e8e8"/><stop offset="0.23628" stop-color="#c0c0c0"/><stop offset="0.23803" stop-color="#a8a8a8"/><stop offset="0.24148" stop-color="#b0b0b0"/><stop offset="0.24317" stop-color="#909090"/><stop offset="0.24452" stop-color="#c0c0c0"/><stop offset="0.24667" stop-color="#d0d0d0"/><stop offset="0.24797" stop-color="#505050"/><stop offset="0.24927" stop-color="#c8c8c8"/><stop offset="0.25531" stop-color="#c0c0c0"/><stop offset="0.26050" stop-color="#c8c8c8"/><stop offset="0.26225" stop-color="#909090"/><stop offset="0.26349" stop-color="#909090"/><stop offset="0.26400" stop-color="#101010"/><stop offset="0.26479" stop-color="#101010"/><stop offset="0.26530" stop-color="#d8d8d8"/><stop offset="0.26829" stop-color="#a8a8a8"/><stop offset="0.27433" stop-color="#a8a8a8"/><stop offset="0.27692" stop-color="#989898"/><stop offset="0.27952" stop-color="#a8a8a8"/><stop offset="0.28302" stop-color="#b8b8b8"/><stop offset="0.28550" stop-color="#a8a8a8"/><stop offset="0.28991" stop-color="#a8a8a8"/><stop offset="0.29166" stop-color="#c8c8c8"/><stop offset="0.29425" stop-color="#b8b8b8"/><stop offset="0.29679" stop-color="#d0d0d0"/><stop offset="0.29849" stop-color="#e8e8e8"/><stop offset="0.30724" stop-color="#e8e8e8"/><stop offset="0.31068" stop-color="#d8d8d8"/><stop offset="0.31237" stop-color="#e8e8e8"/><stop offset="0.31373" stop-color="#c8c8c8"/><stop offset="0.31587" stop-color="#e0e0e0"/><stop offset="0.31932" stop-color="#c8c8c8"/><stop offset="0.32191" stop-color="#e0e0e0"/><stop offset="0.32389" stop-color="#e8e8e8"/><stop offset="0.32823" stop-color="#e0e0e0"/><stop offset="0.32908" stop-color="#b8b8b8"/><stop offset="0.33252" stop-color="#b0b0b0"/><stop offset="0.33382" stop-color="#ffffff"/><stop offset="0.33518" stop-color="#f8f8f8"/><stop offset="0.34291" stop-color="#f8f8f8"/><stop offset="0.34393" stop-color="#a0a0a0"/><stop offset="0.34506" stop-color="#f0f0f0"/><stop offset="0.34635" stop-color="#f8f8f8"/><stop offset="0.34760" stop-color="#e8e8e8"/><stop offset="0.34855" stop-color="#a8a8a8"/><stop offset="0.34968" stop-color="#f8f8f8"/><stop offset="0.35674" stop-color="#f8f8f8"/><stop offset="0.35804" stop-color="#a0a0a0"/><stop offset="0.35934" stop-color="#d8d8d8"/><stop offset="0.36193" stop-color="#d0d0d0"/><stop offset="0.36453" stop-color="#e8e8e8"/><stop offset="0.36713" stop-color="#e0e0e0"/><stop offset="0.36888" stop-color="#f0f0f0"/><stop offset="0.37017" stop-color="#f0f0f0"/><stop offset="0.37102" stop-color="#989898"/><stop offset="0.37317" stop-color="#c0c0c0"/><stop offset="0.37576" stop-color="#e0e0e0"/><stop offset="0.37796" stop-color="#d0d0d0"/><stop offset="0.37881" stop-color="#b0b0b0"/><stop offset="0.38011" stop-color="#f0f0f0"/><stop offset="0.38440" stop-color="#f0f0f0"/><stop offset="0.38530" stop-color="#a0a0a0"/><stop offset="0.38790" stop-color="#c0c0c0"/><stop offset="0.38920" stop-color="#ffffff"/><stop offset="0.39219" stop-color="#f8f8f8"/><stop offset="0.39478" stop-color="#e0e0e0"/><stop offset="0.39608" stop-color="#808080"/><stop offset="0.39738" stop-color="#f0f0f0"/><stop offset="0.40173" stop-color="#f0f0f0"/><stop offset="0.40686" stop-color="#e0e0e0"/><stop offset="0.40822" stop-color="#c0c0c0"/><stop offset="0.40907" stop-color="#404040"/><stop offset="0.41036" stop-color="#a0a0a0"/><stop offset="0.41381" stop-color="#b0b0b0"/><stop offset="0.41510" stop-color="#f0f0f0"/><stop offset="0.41900" stop-color="#e8e8e8"/><stop offset="0.42075" stop-color="#d0d0d0"/><stop offset="0.42154" stop-color="#707070"/><stop offset="0.42267" stop-color="#f0f0f0"/><stop offset="0.42764" stop-color="#e8e8e8"/><stop offset="0.43198" stop-color="#c0c0c0"/><stop offset="0.43503" stop-color="#a0a0a0"/><stop offset="0.43605" stop-color="#505050"/><stop offset="0.43718" stop-color="#989898"/><stop offset="0.44152" stop-color="#909090"/><stop offset="0.44186" stop-color="#ffffff"/><stop offset="0.99193" stop-color="#ffffff"/><stop offset="0.99255" stop-color="#b0b0b0"/><stop offset="0.99447" stop-color="#909090"/><stop offset="0.99531" stop-color="#606060"/><stop offset="0.99616" stop-color="#b0b0b0"/><stop offset="0.99661" stop-color="#ffffff"/></linearGradient>
<linearGradient id="gArrow" gradientUnits="userSpaceOnUse" x1="0" y1="306" x2="0" y2="411"><stop offset="0" stop-color="#6358a8"/><stop offset="0.1" stop-color="#6259a8"/><stop offset="0.25" stop-color="#5a6aa6"/><stop offset="0.37" stop-color="#3d80a0"/><stop offset="0.47" stop-color="#0d8c92"/><stop offset="0.6" stop-color="#0a8d88"/><stop offset="1" stop-color="#0d8c84"/></linearGradient>
</defs>
<rect width="2040" height="1984" fill="#fff"/>
<g id="panelA">
<text x="-0.5" y="32.5" font-size="33" font-weight="bold">a</text>
<path d="M183,123.2 C463.12,123.2 463.12,28.7 779,28.7 L779,144.1 C463.12,144.1 463.12,249.6 183,249.6 Z" fill="#dbbbd8"/>
<path d="M183,250 C673.36,250 290.64,223.2 781,223.2 L781,366.6 C482,366.6 482,374.6 183,374.6 Z" fill="#cdcde3"/>
<path d="M183,409.4 C482.5,409.4 482.5,419.3 782,419.3 L782,467.5 C482.5,467.5 482.5,458.3 183,458.3 Z" fill="#b0dada"/>
<path d="M183,458.8 C483,458.8 483,517.9 783,517.9 L783,581.5 C483,581.5 483,528.8 183,528.8 Z" fill="#f8ddd5"/>
<rect x="141.2" y="118" width="43" height="260" fill="#2c2766"/>
<rect x="141.2" y="406.5" width="43" height="126" fill="#2c2766"/>
<rect x="778.8" y="27.7" width="47.2" height="117.4" fill="#892180" stroke="#2a1c30" stroke-width="3.4"/>
<rect x="780.9" y="221.7" width="46.9" height="146.8" fill="#6259a3" stroke="#231f30" stroke-width="3.4"/>
<rect x="782.1" y="417.1" width="48.2" height="52.8" fill="#00877f" stroke="#1c2626" stroke-width="3.4"/>
<rect x="782.9" y="515.7" width="48.2" height="66.1" fill="#e8917a" stroke="#2a2020" stroke-width="3.4"/>
<text x="150.3" y="94.5" font-size="24.5" font-weight="bold" text-anchor="middle" >26</text>
<text x="166" y="556" font-size="24.5" font-weight="bold" text-anchor="middle" >8</text>
<text x="802.4" y="20" font-size="24.5" font-weight="bold" text-anchor="middle" >9</text>
<text x="800.2" y="217" font-size="24.5" font-weight="bold" text-anchor="middle" >15</text>
<text x="802.3" y="410.3" font-size="24.5" font-weight="bold" text-anchor="middle" >3</text>
<text x="802.3" y="510.5" font-size="24.5" font-weight="bold" text-anchor="middle" >5</text>
<text transform="translate(125,246.6) rotate(-90)" font-size="25" font-weight="bold" text-anchor="middle">repeat modeler</text>
<text transform="translate(85,468) rotate(-90)" font-size="25" font-weight="bold" text-anchor="middle">manual</text>
<text transform="translate(115.5,468) rotate(-90)" font-size="25" font-weight="bold" text-anchor="middle">curation</text>
<text x="839.7" y="89.8" font-size="25" >satellites</text>
<text x="839.7" y="266" font-size="25" >new repeats:</text>
<text x="839.7" y="295.5" font-size="25" >subunits of composite repeats</text>
<text x="840.2" y="434.6" font-size="25" >composite elements</text>
<text x="885.5" y="467" font-size="25" font-style="italic" fill="#1a8a87">DAZ, RBMY, TSPY</text>
<text x="839.7" y="541" font-size="25" >novel satellite</text>
<text x="839.7" y="570.8" font-size="25" >arrays/monomers</text>
<path d="M945.05,306.7 L973.2,306.7 L968.3,355.5 L977.5,351.1 Q964.5,380 959.25,410.8 Q954,380 940.8,351 L950.2,355.9 Z" fill="url(#gArrow)"/>
<rect x="1379" y="34.2" width="659.6" height="97.2" fill="#fff" stroke="#000" stroke-width="3"/>
<text x="1459.3" y="75" font-size="25" font-weight="bold" text-anchor="start" xml:space="preserve">TOTAL: 29</text>
<text x="1582.8" y="112.3" font-size="25" font-weight="bold" text-anchor="end" >3</text>
<text x="1592.6" y="74.4" font-size="29.3" >new repeat entries in Dfam</text>
<text x="1592.6" y="111.5" font-size="29.3" >new composite annotations</text>
<text x="1785.8" y="227.2" font-size="33.1" >Class</text>
<rect x="1795.2" y="257.2" width="23.6" height="30.2" fill="#96cc96"/>
<text x="1826" y="284.9" font-size="25" >PAR</text>
<rect x="1795.2" y="296.53" width="23.6" height="30.2" fill="#b8202a"/>
<text x="1824.4" y="321.8" font-size="25" >αSat (HOR)</text>
<rect x="1795.2" y="335.86" width="23.6" height="30.2" fill="#ffee55"/>
<text x="1826" y="363.3" font-size="25" >X-degenerate</text>
<rect x="1795.2" y="375.19" width="23.6" height="30.2" fill="#f0a8b8"/>
<text x="1824.4" y="401.2" font-size="25" >X-transposed</text>
<rect x="1795.2" y="414.52" width="23.6" height="30.2" fill="#88bfea"/>
<text x="1827" y="442" font-size="25" >Ampliconic</text>
<rect x="1795.2" y="453.85" width="23.6" height="30.2" fill="#6e4507"/>
<text x="1823.7" y="481.1" font-size="25" >Satellites</text>
<rect x="1795.2" y="493.18" width="23.6" height="30.2" fill="#7a7a7a"/>
<text x="1823.4" y="520.3" font-size="25" >Heterochromatin</text>
<rect x="1795.2" y="532.51" width="23.6" height="30.2" fill="#d8d8d8"/>
<text x="1825.8" y="557.8" font-size="25" >Other</text>
</g>
<g id="panelB">
<text x="4.9" y="631.7" font-size="33" font-weight="bold">b</text>
<rect x="114.5" y="625.9" width="298.6" height="34" fill="#fff" />
<rect x="113.7" y="624.85" width="3.6" height="36.1" fill="#0c0c0c" />
<rect x="117.3" y="625.9" width="8.7" height="34" fill="#858585" />
<rect x="422.7" y="625.9" width="1464.8" height="34" fill="#fff" />
<rect x="492" y="625.9" width="132.4" height="34" fill="#858585" />
<rect x="695.4" y="625.9" width="128.2" height="34" fill="#858585" />
<rect x="894" y="625.9" width="993.5" height="34" fill="#dde2f4" />
<rect x="114.5" y="625.9" width="298.6" height="34" fill="none" stroke="#111" stroke-width="2.1"/>
<rect x="422.7" y="625.9" width="1464.8" height="34" fill="none" stroke="#111" stroke-width="2.1"/>
<line x1="125.9" y1="625.9" x2="125.9" y2="659.9" stroke="#111" stroke-width="2.1"/>
<line x1="492" y1="625.9" x2="492" y2="659.9" stroke="#111" stroke-width="2.1"/>
<line x1="624.4" y1="625.9" x2="624.4" y2="659.9" stroke="#111" stroke-width="2.1"/>
<line x1="695.4" y1="625.9" x2="695.4" y2="659.9" stroke="#111" stroke-width="2.1"/>
<line x1="823.6" y1="625.9" x2="823.6" y2="659.9" stroke="#111" stroke-width="2.1"/>
<line x1="894" y1="625.9" x2="894" y2="659.9" stroke="#111" stroke-width="2.1"/>
<path d="M413.6,628 L418.2,642.9 L413.6,658 Z M422.2,628 L417.6,642.9 L422.2,658 Z" fill="#b8232f"/>
<text x="272.1" y="650.5" font-size="25" text-anchor="middle" fill="#111">p11.2</text>
<text x="564" y="650.3" font-size="25" text-anchor="middle" fill="#111">q11.221</text>
<text x="765.2" y="650.3" font-size="25" text-anchor="middle" fill="#111">q11.223</text>
<text x="1399" y="650.3" font-size="25" text-anchor="middle" fill="#111">q12</text>
<rect x="115.9" y="673" width="70.3" height="33.9" fill="#96cc96" />
<rect x="185.9" y="673" width="9.7" height="33.9" fill="#ffee55" />
<rect x="195.2" y="673" width="90.6" height="33.9" fill="#f0a8b8" />
<rect x="285.5" y="673" width="7" height="33.9" fill="#88bfea" />
<rect x="292.2" y="673" width="5.6" height="33.9" fill="#f0a8b8" />
<rect x="297.5" y="673" width="25" height="33.9" fill="#ffee55" />
<rect x="322.2" y="673" width="90.1" height="33.9" fill="#88bfea" />
<rect x="412" y="673" width="12.9" height="33.9" fill="#b8202a" />
<rect x="412" y="673" width="3.6" height="33.9" fill="#7a3a18" />
<rect x="424.3" y="673" width="52.5" height="33.9" fill="#6e4507" />
<rect x="476.5" y="673" width="63.4" height="33.9" fill="#ffee55" />
<rect x="539.6" y="673" width="1.5" height="33.9" fill="#88bfea" />
<rect x="540.8" y="673" width="60" height="33.9" fill="#ffee55" />
<rect x="600.5" y="673" width="7.5" height="33.9" fill="#88bfea" />
<rect x="607.7" y="673" width="30.3" height="33.9" fill="#ffee55" />
<rect x="637.7" y="673" width="40.2" height="33.9" fill="#88bfea" />
<rect x="677.6" y="673" width="34" height="33.9" fill="#ffee55" />
<rect x="711.3" y="673" width="6.9" height="33.9" fill="#6e4507" />
<rect x="717.9" y="673" width="30.9" height="33.9" fill="#ffee55" />
<rect x="748.5" y="673" width="137.8" height="33.9" fill="#88bfea" />
<rect x="886" y="673" width="9.7" height="33.9" fill="#d8d8d8" />
<rect x="895.4" y="673" width="980.8" height="33.9" fill="#7a7a7a" />
<rect x="1875.9" y="673" width="3" height="33.9" fill="#c4dcc4" />
<rect x="1878.6" y="673" width="9.1" height="33.9" fill="#96cc96" />
<rect x="115.9" y="673" width="1771.1" height="33.9" fill="none" stroke="#141414" stroke-width="2"/>
<rect x="117.1" y="721.7" width="1769.8" height="50.3" fill="url(#gSINE)" stroke="#0c0c0c" stroke-width="2"/>
<rect x="117.1" y="788.6" width="1769.8" height="49.4" fill="url(#gSVA)" stroke="#0c0c0c" stroke-width="2"/>
<rect x="152.6" y="788.6" width="2.2" height="49.4" fill="#101010" />
<rect x="234.4" y="788.6" width="1.8" height="49.4" fill="#505050" />
<rect x="282.3" y="788.6" width="1.6" height="49.4" fill="#909090" />
<rect x="363.9" y="788.6" width="1.8" height="49.4" fill="#404040" />
<rect x="439.7" y="788.6" width="1.8" height="49.4" fill="#505050" />
<rect x="499.3" y="788.6" width="2.2" height="49.4" fill="#101010" />
<rect x="510.6" y="788.6" width="1.8" height="49.4" fill="#404040" />
<rect x="543.8" y="788.6" width="2.6" height="49.4" fill="#000000" />
<rect x="699.1" y="788.6" width="1.8" height="49.4" fill="#606060" />
<rect x="727.3" y="788.6" width="2.6" height="49.4" fill="#000000" />
<rect x="117.1" y="855.6" width="1769.8" height="49.6" fill="url(#gLTR)" stroke="#0c0c0c" stroke-width="2"/>
<rect x="117.1" y="922.3" width="1769.8" height="49.3" fill="url(#gLINE)" stroke="#0c0c0c" stroke-width="2"/>
<rect x="117.1" y="988.7" width="1769.8" height="49.9" fill="url(#gDNA)" stroke="#0c0c0c" stroke-width="2"/>
<text x="1909.3" y="656.6" font-size="29.4" >Cytoband</text>
<text x="1909.3" y="705" font-size="29.4" >Class</text>
<text x="1909.3" y="763.3" font-size="29.4" >SINE</text>
<text x="1909.3" y="830.3" font-size="29.4" >SVA</text>
<text x="1909.3" y="897" font-size="29.4" >LTR</text>
<text x="1909.3" y="963.4" font-size="29.4" >LINE</text>
<text x="1909.3" y="1029.8" font-size="29.4" >DNA/RC</text>
</g>
<g id="panelC">
<text x="6.6" y="1104" font-size="33" font-weight="bold">c</text>
<line x1="228.1" y1="1169" x2="228.1" y2="1974.8" stroke="#000" stroke-width="4.2"/>
<line x1="208.1" y1="1972.8" x2="228" y2="1972.8" stroke="#000" stroke-width="4"/>
<text x="169.8" y="1980" font-size="24.3" text-anchor="end">50</text>
<line x1="217" y1="1946" x2="228" y2="1946" stroke="#000" stroke-width="3.6"/>
<line x1="208.1" y1="1919.2" x2="228" y2="1919.2" stroke="#000" stroke-width="4"/>
<text x="169.8" y="1926.7" font-size="24.3" text-anchor="end">40</text>
<line x1="217" y1="1892.4" x2="228" y2="1892.4" stroke="#000" stroke-width="3.6"/>
<line x1="208.1" y1="1865.6" x2="228" y2="1865.6" stroke="#000" stroke-width="4"/>
<text x="169.8" y="1873.4" font-size="24.3" text-anchor="end">30</text>
<line x1="217" y1="1838.8" x2="228" y2="1838.8" stroke="#000" stroke-width="3.6"/>
<line x1="208.1" y1="1812" x2="228" y2="1812" stroke="#000" stroke-width="4"/>
<text x="169.8" y="1820.1" font-size="24.3" text-anchor="end">20</text>
<line x1="217" y1="1785.2" x2="228" y2="1785.2" stroke="#000" stroke-width="3.6"/>
<line x1="208.1" y1="1758.4" x2="228" y2="1758.4" stroke="#000" stroke-width="4"/>
<text x="169.8" y="1766.8" font-size="24.3" text-anchor="end">10</text>
<line x1="217" y1="1731.6" x2="228" y2="1731.6" stroke="#000" stroke-width="3.6"/>
<line x1="208.1" y1="1704.7" x2="228" y2="1704.7" stroke="#000" stroke-width="4"/>
<text x="169.8" y="1713.5" font-size="24.3" text-anchor="end">0</text>
<line x1="217" y1="1675.92" x2="228" y2="1675.92" stroke="#000" stroke-width="3.6"/>
<line x1="208.1" y1="1649.35" x2="228" y2="1649.35" stroke="#000" stroke-width="4"/>
<text x="169.8" y="1660.2" font-size="24.3" text-anchor="end">10</text>
<line x1="217" y1="1622.78" x2="228" y2="1622.78" stroke="#000" stroke-width="3.6"/>
<line x1="208.1" y1="1596.2" x2="228" y2="1596.2" stroke="#000" stroke-width="4"/>
<text x="169.8" y="1606.9" font-size="24.3" text-anchor="end">20</text>
<line x1="217" y1="1569.62" x2="228" y2="1569.62" stroke="#000" stroke-width="3.6"/>
<line x1="208.1" y1="1543.05" x2="228" y2="1543.05" stroke="#000" stroke-width="4"/>
<text x="169.8" y="1553.6" font-size="24.3" text-anchor="end">30</text>
<line x1="217" y1="1516.47" x2="228" y2="1516.47" stroke="#000" stroke-width="3.6"/>
<line x1="208.1" y1="1489.9" x2="228" y2="1489.9" stroke="#000" stroke-width="4"/>
<text x="169.8" y="1500.3" font-size="24.3" text-anchor="end">40</text>
<line x1="217" y1="1463.33" x2="228" y2="1463.33" stroke="#000" stroke-width="3.6"/>
<line x1="208.1" y1="1436.75" x2="228" y2="1436.75" stroke="#000" stroke-width="4"/>
<text x="169.8" y="1447" font-size="24.3" text-anchor="end">50</text>
<line x1="217" y1="1410.17" x2="228" y2="1410.17" stroke="#000" stroke-width="3.6"/>
<line x1="208.1" y1="1383.6" x2="228" y2="1383.6" stroke="#000" stroke-width="4"/>
<text x="169.8" y="1393.7" font-size="24.3" text-anchor="end">60</text>
<line x1="217" y1="1357.03" x2="228" y2="1357.03" stroke="#000" stroke-width="3.6"/>
<line x1="208.1" y1="1330.45" x2="228" y2="1330.45" stroke="#000" stroke-width="4"/>
<text x="169.8" y="1340.4" font-size="24.3" text-anchor="end">70</text>
<line x1="217" y1="1303.88" x2="228" y2="1303.88" stroke="#000" stroke-width="3.6"/>
<line x1="208.1" y1="1277.3" x2="228" y2="1277.3" stroke="#000" stroke-width="4"/>
<text x="169.8" y="1287.1" font-size="24.3" text-anchor="end">80</text>
<line x1="217" y1="1250.72" x2="228" y2="1250.72" stroke="#000" stroke-width="3.6"/>
<line x1="208.1" y1="1224.15" x2="228" y2="1224.15" stroke="#000" stroke-width="4"/>
<text x="169.8" y="1233.8" font-size="24.3" text-anchor="end">90</text>
<line x1="217" y1="1197.58" x2="228" y2="1197.58" stroke="#000" stroke-width="3.6"/>
<line x1="208.1" y1="1171" x2="228" y2="1171" stroke="#000" stroke-width="4"/>
<text x="169.8" y="1180.5" font-size="24.3" text-anchor="end">100</text>
<text transform="translate(116.4,1713.8) rotate(-90)" font-size="25" font-weight="bold" text-anchor="middle">% repeat (bp)</text>
<rect x="280.9" y="1443.6" width="107.3" height="10" fill="#b57cf9" />
<rect x="280.9" y="1453.3" width="107.3" height="56.6" fill="#00908f" />
<rect x="280.9" y="1509.6" width="107.3" height="57.9" fill="#52a0e6" />
<rect x="280.9" y="1567.2" width="107.3" height="137.9" fill="#bb1a04" />
<rect x="280.9" y="1704.8" width="107.3" height="34.3" fill="#f47c7c" />
<rect x="280.9" y="1738.8" width="107.3" height="203" fill="#005594" />
<rect x="441.4" y="1341.7" width="107.3" height="12.8" fill="#b57cf9" />
<rect x="441.4" y="1354.2" width="107.3" height="97.9" fill="#00908f" />
<rect x="441.4" y="1451.8" width="107.3" height="221.9" fill="#52a0e6" />
<rect x="441.4" y="1673.4" width="107.3" height="31.7" fill="#bb1a04" />
<rect x="441.4" y="1704.8" width="107.3" height="25.4" fill="#f47c7c" />
<rect x="441.4" y="1729.9" width="107.3" height="214.1" fill="#005594" />
<rect x="601.7" y="1365" width="107.3" height="12.1" fill="#b57cf9" />
<rect x="601.7" y="1376.8" width="107.3" height="111.1" fill="#00908f" />
<rect x="601.7" y="1487.6" width="107.3" height="160.4" fill="#52a0e6" />
<rect x="601.7" y="1647.7" width="107.3" height="57.4" fill="#bb1a04" />
<rect x="601.7" y="1704.8" width="107.3" height="52.9" fill="#f47c7c" />
<rect x="601.7" y="1757.4" width="107.3" height="156.9" fill="#005594" />
<rect x="762" y="1477.2" width="107.3" height="6.8" fill="#b57cf9" />
<rect x="762" y="1483.7" width="107.3" height="81" fill="#00908f" />
<rect x="762" y="1564.4" width="107.3" height="99.3" fill="#52a0e6" />
<rect x="762" y="1663.4" width="107.3" height="41.7" fill="#bb1a04" />
<rect x="762" y="1704.8" width="107.3" height="37.5" fill="#f47c7c" />
<rect x="762" y="1742" width="107.3" height="92.2" fill="#005594" />
<rect x="922.2" y="1628.8" width="107.3" height="2.7" fill="#b57cf9" />
<rect x="922.2" y="1631.2" width="107.3" height="16.8" fill="#00908f" />
<rect x="922.2" y="1647.7" width="107.3" height="37.8" fill="#52a0e6" />
<rect x="922.2" y="1685.2" width="107.3" height="19.9" fill="#bb1a04" />
<rect x="922.2" y="1704.8" width="107.3" height="17.9" fill="#f47c7c" />
<rect x="922.2" y="1722.4" width="107.3" height="36.7" fill="#005594" />
<rect x="1082.5" y="1170.8" width="107.3" height="534.3" fill="#00908f" />
<rect x="1242.8" y="1676" width="107.3" height="29.1" fill="#bb1a04" />
<rect x="1242.8" y="1704.8" width="107.3" height="27.1" fill="#f47c7c" />
<rect x="1402.9" y="1438.9" width="107.3" height="17.4" fill="#b57cf9" />
<rect x="1402.9" y="1456" width="107.3" height="20.1" fill="#00908f" />
<rect x="1402.9" y="1475.8" width="107.3" height="137.7" fill="#52a0e6" />
<rect x="1402.9" y="1613.2" width="107.3" height="91.9" fill="#bb1a04" />
<rect x="1402.9" y="1704.8" width="107.3" height="80.7" fill="#f47c7c" />
<rect x="1402.9" y="1785.2" width="107.3" height="120.5" fill="#005594" />
<line x1="208.1" y1="1704.7" x2="1733.2" y2="1704.7" stroke="#000" stroke-width="4.2"/>
<text transform="translate(338.4,1405.8) rotate(-45)" font-size="29.4" text-anchor="middle">PAR</text>
<text transform="translate(532.4,1262.6) rotate(-45)" font-size="29.4" text-anchor="middle">X-transposed</text>
<text transform="translate(689.7,1289) rotate(-45)" font-size="29.4" text-anchor="middle">X-degenerate</text>
<text transform="translate(834.7,1408.4) rotate(-45)" font-size="29.4" text-anchor="middle">Ampliconic</text>
<text transform="translate(977.4,1574.4) rotate(-45)" font-size="29.4" text-anchor="middle">Cen/Sat</text>
<text transform="translate(1136.4,1128) rotate(-45)" font-size="29.4" text-anchor="middle">DYZ19</text>
<text transform="translate(1299.6,1773) rotate(-45)" font-size="29.4" text-anchor="middle">Het.</text>
<text transform="translate(1457.5,1396) rotate(-45)" font-size="29.4" text-anchor="middle">Other</text>
<text x="1325.8" y="1212.6" font-size="29.3" >Cen/Sat: DYZ3, αSat (HOR), DYZ17</text>
<text x="1325.6" y="1265.2" font-size="29.2" >Heterochromatin: DYZ1, DYZ2, DYZ18</text>
<rect x="1581" y="1422.7" width="45" height="23.8" fill="#b57cf9" />
<text x="1651.8" y="1447" font-size="29.3" >DNA/RC</text>
<rect x="1581" y="1481.9" width="45" height="23.8" fill="#54198f" />
<text x="1651.8" y="1506.7" font-size="29.3" >Retroposon (SVA)</text>
<rect x="1581" y="1541.1" width="45" height="23.8" fill="#00908f" />
<text x="1651.8" y="1565.9" font-size="29.3" >LTR</text>
<rect x="1581" y="1600.3" width="45" height="23.8" fill="#52a0e6" />
<text x="1651.8" y="1625.1" font-size="29.3" >LINE</text>
<rect x="1581" y="1659.5" width="45" height="23.8" fill="#bb1a04" />
<text x="1652.8" y="1684.7" font-size="29.3" >SINE</text>
<rect x="1581" y="1719.6" width="45" height="23.8" fill="#f47c7c" />
<text x="1656.9" y="1745.2" font-size="29.3" >Alu</text>
<rect x="1581" y="1776.7" width="45" height="23.8" fill="#005594" />
<text x="1654.8" y="1802.7" font-size="29.3" >L1</text>
</g>
</svg></body></html>
